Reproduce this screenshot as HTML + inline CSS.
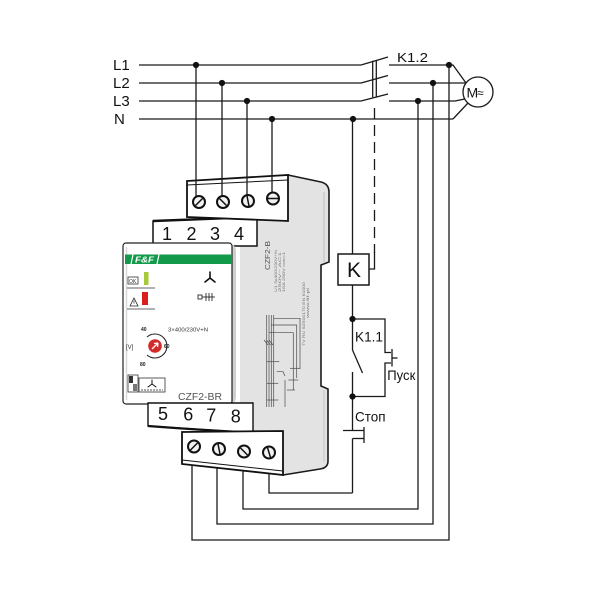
<!DOCTYPE html>
<html><head><meta charset="utf-8"><style>
html,body{margin:0;padding:0;background:#fff;}
svg{display:block;}
text{font-family:"Liberation Sans","DejaVu Sans",sans-serif;}
</style></head><body>
<svg width="600" height="600" viewBox="0 0 600 600" xmlns="http://www.w3.org/2000/svg">
<rect width="600" height="600" fill="#fff"/>

<!-- ===== DEVICE ===== -->
<!-- grey side body -->
<path d="M240,178 L288,175 L321,182 Q329,184 329,192 L329,262 L321,265 L321,386 L328,389 L328,461 Q328,468 320,469 L283,475 L240,470 Z" fill="#e3e3e3"/>
<path d="M288,175 L321,182 Q329,184 329,192 L329,262 L321,265 L321,386 L328,389 L328,461 Q328,468 320,469 L283,475" fill="none" stroke="#1a1a1a" stroke-width="1.6"/>
<line x1="324" y1="192" x2="324" y2="262" stroke="#bdbdbd" stroke-width="1"/>
<line x1="324" y1="390" x2="324" y2="462" stroke="#c4c4c4" stroke-width="1"/>

<!-- side text -->
<text transform="translate(270,270) rotate(-90)" font-size="7" fill="#555" textLength="29" lengthAdjust="spacingAndGlyphs">CZF2-B</text>
<text transform="translate(277,292) rotate(-90)" font-size="3.6" fill="#777" textLength="42" lengthAdjust="spacingAndGlyphs">U1 3x400/230V+N</text>
<text transform="translate(281,292) rotate(-90)" font-size="3.6" fill="#777" textLength="40" lengthAdjust="spacingAndGlyphs">250V~ AC1</text>
<text transform="translate(285,292) rotate(-90)" font-size="3.6" fill="#777" textLength="40" lengthAdjust="spacingAndGlyphs">16A 250V cos=1</text>
<text transform="translate(305,346) rotate(-90)" font-size="3.6" fill="#777" textLength="64" lengthAdjust="spacingAndGlyphs">TV RU 9Z500170 EN 61000</text>
<text transform="translate(309,318) rotate(-90)" font-size="3.6" fill="#777" textLength="30" lengthAdjust="spacingAndGlyphs">www.fif.pl</text>

<!-- side schematic -->
<g stroke="#4a4a4a" stroke-width="0.7" fill="none">
<line x1="266.7" y1="315" x2="266.7" y2="407"/>
<line x1="269" y1="315" x2="269" y2="407"/>
<line x1="271.3" y1="315" x2="271.3" y2="407"/>
<line x1="273.7" y1="315" x2="273.7" y2="407"/>
<path d="M273.7,318.3 L300,318.3 L300,369"/>
<path d="M271.3,325 L296.7,325 L296.7,378"/>
<path d="M269,332.7 L293.3,332.7 L293.3,390"/>
<line x1="266.7" y1="361.7" x2="279.3" y2="361.7"/>
<path d="M276.7,371.7 L283,371.7 L285,376"/>
<line x1="266.7" y1="383.3" x2="278.3" y2="383.3"/>
<line x1="266.7" y1="400" x2="278.3" y2="400"/>
<line x1="285" y1="380" x2="285" y2="407"/>
<line x1="290" y1="368.3" x2="300" y2="368.3"/>
<line x1="288.3" y1="380" x2="298.3" y2="380"/>
<line x1="287" y1="390" x2="295" y2="390"/>
<line x1="264" y1="340" x2="268" y2="345"/>
<line x1="266.5" y1="340" x2="270.5" y2="345"/>
<line x1="269" y1="340" x2="273" y2="345"/>
</g>

<!-- upper number strip -->
<path d="M153,221 L257,217 L257,246 L153,246 Z" fill="#fff" stroke="#111" stroke-width="1.5"/>
<line x1="153" y1="221" x2="257" y2="217" stroke="#111" stroke-width="2.4"/>
<g font-size="18" fill="#111" text-anchor="middle">
<text x="167" y="240">1</text>
<text x="191.5" y="240">2</text>
<text x="215" y="240">3</text>
<text x="239" y="240">4</text>
</g>

<!-- upper terminal block -->
<path d="M187,181 L288,175 L288,221 L187,217 Z" fill="#fff" stroke="#111" stroke-width="1.8"/>
<line x1="187" y1="185" x2="288" y2="180" stroke="#111" stroke-width="1"/>

<!-- front panel -->
<path d="M229,244 Q236,244 236,252 L236,396 Q236,404 229,404 Z" fill="#cfcfcf"/>
<rect x="123" y="243" width="109" height="161" rx="3" fill="#fff" stroke="#222" stroke-width="1.2"/>
<line x1="126.5" y1="247" x2="126.5" y2="400" stroke="#d8d8d8" stroke-width="1.5"/>

<!-- green bar + logo -->
<rect x="125" y="254.5" width="107" height="9.5" fill="#12994a"/>
<line x1="131" y1="264" x2="133" y2="254.5" stroke="#fff" stroke-width="1.2"/>
<line x1="157" y1="264" x2="159" y2="254.5" stroke="#fff" stroke-width="1.2"/>
<text x="135" y="262.6" font-size="8.5" font-weight="bold" font-style="italic" fill="#fff" textLength="19" lengthAdjust="spacingAndGlyphs">F&amp;F</text>

<!-- OK indicator -->
<rect x="128" y="277" width="10" height="7" fill="#fff" stroke="#333" stroke-width="0.8"/>
<text x="129" y="282.8" font-size="5" fill="#333">OK</text>
<rect x="144" y="272" width="4.5" height="13" fill="#a6c93a"/>
<line x1="127" y1="288" x2="155" y2="288" stroke="#333" stroke-width="0.8"/>
<!-- alarm indicator -->
<path d="M130,306 L134,298 L138,306 Z" fill="none" stroke="#222" stroke-width="0.8"/>
<line x1="134" y1="300.5" x2="134" y2="303.5" stroke="#222" stroke-width="0.7"/>
<rect x="142" y="292" width="6" height="13" fill="#d81e1e"/>
<line x1="127" y1="309" x2="155" y2="309" stroke="#333" stroke-width="0.8"/>

<!-- star symbol -->
<g stroke="#111" stroke-width="1.6" stroke-linecap="round">
<line x1="210" y1="278" x2="210" y2="272"/>
<line x1="210" y1="278" x2="205" y2="282"/>
<line x1="210" y1="278" x2="215" y2="282"/>
</g>
<!-- sequence symbol -->
<g stroke="#111" stroke-width="0.8" fill="none">
<rect x="198" y="295" width="4" height="4"/>
<line x1="202" y1="297" x2="215" y2="297"/>
<line x1="206" y1="293" x2="206" y2="301"/>
<line x1="209" y1="293" x2="209" y2="301"/>
<line x1="212" y1="293" x2="212" y2="301"/>
</g>

<text x="168" y="331.5" font-size="5" fill="#333" textLength="40" lengthAdjust="spacingAndGlyphs">3×400/230V+N</text>

<!-- knob -->
<path d="M147,337 A12,12 0 1 1 147,355" fill="none" stroke="#222" stroke-width="1.1"/>
<circle cx="155" cy="346" r="6.8" fill="#d52a2a"/>
<path d="M152,349 L158,343 M158,343 L154,343.5 M158,343 L157.5,347" stroke="#fff" stroke-width="1.3" fill="none"/>
<text x="141" y="331" font-size="5" font-weight="bold" fill="#222">40</text>
<text x="164" y="348" font-size="5" font-weight="bold" fill="#222">60</text>
<text x="140" y="366" font-size="5" font-weight="bold" fill="#222">80</text>
<text x="126" y="349" font-size="6" fill="#333">[V]</text>

<!-- bottom icon -->
<rect x="128" y="375" width="10" height="17" fill="#fff" stroke="#333" stroke-width="0.8"/>
<rect x="129" y="376" width="4" height="7" fill="#333"/>
<rect x="133" y="384" width="4" height="7" fill="#777"/>
<rect x="139" y="378" width="26" height="14" fill="#fff" stroke="#333" stroke-width="0.8"/>
<g stroke="#111" stroke-width="1" stroke-linecap="round">
<line x1="152" y1="384" x2="152" y2="380"/>
<line x1="152" y1="384" x2="148" y2="387"/>
<line x1="152" y1="384" x2="156" y2="387"/>
</g>
<line x1="141" y1="390" x2="163" y2="390" stroke="#555" stroke-width="1" stroke-dasharray="2 1"/>

<text x="178" y="400" font-size="10" fill="#555" textLength="44" lengthAdjust="spacingAndGlyphs">CZF2-BR</text>

<!-- lower number strip -->
<path d="M148,403 L253,403 L253,433 L148,426 Z" fill="#fff" stroke="#111" stroke-width="1.4"/>
<path d="M148,426 Q200,430 258,433" fill="none" stroke="#111" stroke-width="2.2"/>
<g font-size="18" fill="#111" text-anchor="middle">
<text x="163" y="420">5</text>
<text x="188.3" y="420.7">6</text>
<text x="211.3" y="421.5">7</text>
<text x="235.8" y="422.5">8</text>
</g>

<!-- lower terminal block -->
<path d="M182,432 L283,431 L283,475 L182,464 Z" fill="#fff" stroke="#111" stroke-width="1.8"/>
<line x1="182" y1="460" x2="283" y2="471" stroke="#111" stroke-width="1"/>

<!-- ===== WIRES ===== -->
<g stroke="#1a1a1a" stroke-width="1.3" fill="none">
<!-- phase lines left of contactor -->
<line x1="139" y1="65" x2="361" y2="65"/>
<line x1="361" y1="65" x2="388" y2="57"/>
<line x1="139" y1="83" x2="361" y2="83"/>
<line x1="361" y1="83" x2="388" y2="75.5"/>
<line x1="139" y1="101" x2="361" y2="101"/>
<line x1="361" y1="101" x2="388" y2="94"/>
<line x1="139" y1="119" x2="453" y2="119"/>
<!-- right of contactor -->
<path d="M389,65 L453,65 L466,83"/>
<line x1="389" y1="83" x2="466" y2="83"/>
<path d="M389,101 L455,101 L464.7,99"/>
<path d="M453,119 L468,103"/>
<!-- mechanical link -->
<line x1="372.7" y1="60.7" x2="372.7" y2="97.3"/>
<line x1="376.3" y1="60.7" x2="376.3" y2="97.3"/>
<line x1="374.5" y1="108" x2="374.5" y2="253" stroke-dasharray="11 6"/>
<path d="M374.5,252 L374.5,269 L369,269"/>

<!-- drops to upper terminals -->
<line x1="196" y1="65" x2="196" y2="197"/>
<line x1="222" y1="83" x2="222" y2="196"/>
<line x1="247" y1="101" x2="247" y2="195"/>
<line x1="272" y1="119" x2="272" y2="192"/>

<!-- control circuit -->
<line x1="352.5" y1="119" x2="352.5" y2="254"/>
<rect x="338" y="254" width="31" height="31" fill="#fff"/>
<line x1="352.5" y1="285" x2="352.5" y2="350"/>
<line x1="352.5" y1="350" x2="362.5" y2="373"/>
<line x1="352.5" y1="372" x2="352.5" y2="430"/>
<!-- Pusk -->
<path d="M352.5,319 L385,319 L385,352.5 L391,352.5"/>
<path d="M352.5,396.5 L385,396.5 L385,363 L391,363"/>
<line x1="392" y1="349" x2="392" y2="366.5"/>
<line x1="392" y1="358" x2="397.5" y2="358"/>
<!-- Stop -->
<line x1="343" y1="430.5" x2="364" y2="430.5"/>
<line x1="364" y1="427" x2="364" y2="443"/>
<line x1="352.5" y1="438.5" x2="364" y2="438.5"/>
<line x1="352.5" y1="438.5" x2="352.5" y2="493"/>

<!-- bottom returns -->
<path d="M269,473.5 L269,493 L352.5,493"/>
<path d="M243,470.6 L243,509 L418,509 L418,101"/>
<path d="M217,468 L217,524 L433,524 L433,83"/>
<path d="M192,465 L192,540 L449,540 L449,65"/>
</g>

<!-- motor -->
<circle cx="478" cy="92" r="15" fill="#fff" stroke="#1a1a1a" stroke-width="1.3"/>
<text x="466.5" y="97.5" font-size="14" fill="#111">M</text>
<text x="477" y="97" font-size="12" fill="#111" font-family="DejaVu Sans, sans-serif">≈</text>

<!-- junction dots -->
<g fill="#111">
<circle cx="196" cy="65" r="3.1"/>
<circle cx="222" cy="83" r="3.1"/>
<circle cx="247" cy="101" r="3.1"/>
<circle cx="272" cy="119" r="3.1"/>
<circle cx="353" cy="119" r="3.1"/>
<circle cx="449" cy="65" r="3.1"/>
<circle cx="433" cy="83" r="3.1"/>
<circle cx="418" cy="101" r="3.1"/>
<circle cx="352.5" cy="319" r="3.1"/>
<circle cx="352.5" cy="396.5" r="3.1"/>
</g>

<!-- screws -->
<g stroke="#111" stroke-width="2" fill="#f2f2f2">
<circle cx="199" cy="202" r="6"/>
<circle cx="223" cy="202" r="6"/>
<circle cx="248" cy="201" r="6"/>
<circle cx="273" cy="198.5" r="6"/>
<circle cx="194" cy="446.5" r="6"/>
<circle cx="219" cy="449" r="6"/>
<circle cx="244" cy="451.5" r="6"/>
<circle cx="269" cy="452.5" r="6"/>
</g>
<g stroke="#111" stroke-width="1.5">
<line x1="195.5" y1="205.5" x2="202.5" y2="198.5"/>
<line x1="219.5" y1="198.5" x2="226.5" y2="205.5"/>
<line x1="247" y1="196" x2="249" y2="206"/>
<line x1="268" y1="198.5" x2="278" y2="198.5"/>
<line x1="190.5" y1="450" x2="197.5" y2="443"/>
<line x1="218" y1="444" x2="220" y2="454"/>
<line x1="240.5" y1="448" x2="247.5" y2="455"/>
<line x1="267.5" y1="447.5" x2="270.5" y2="457.5"/>
</g>

<!-- labels -->
<g fill="#111">
<text x="113" y="70" font-size="15">L1</text>
<text x="113" y="88" font-size="15">L2</text>
<text x="113" y="106" font-size="15">L3</text>
<text x="114" y="124" font-size="15">N</text>
<text x="397" y="62" font-size="12.5" textLength="31" lengthAdjust="spacingAndGlyphs">K1.2</text>
<text x="347" y="277" font-size="21">K</text>
<text x="355" y="341.7" font-size="14" textLength="28" lengthAdjust="spacingAndGlyphs">K1.1</text>
<text x="387.3" y="380" font-size="14" textLength="28" lengthAdjust="spacingAndGlyphs">Пуск</text>
<text x="355" y="421.7" font-size="14" textLength="30.5" lengthAdjust="spacingAndGlyphs">Стоп</text>
</g>
<rect x="338" y="254" width="31" height="31" fill="none" stroke="#1a1a1a" stroke-width="1.3"/>
</svg>
</body></html>
